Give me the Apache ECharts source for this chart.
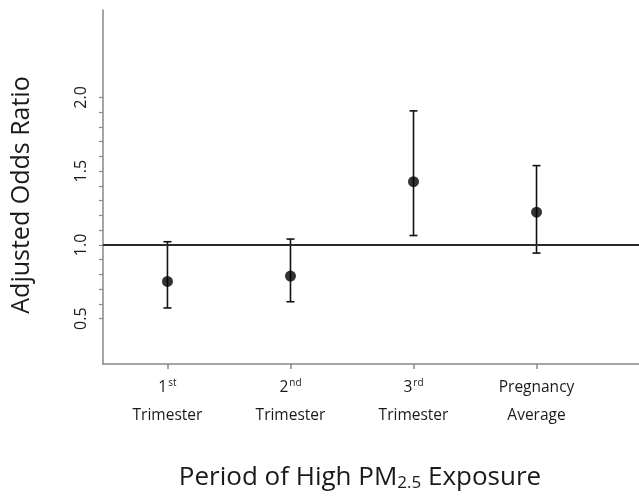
<!DOCTYPE html>
<html>
<head>
<meta charset="utf-8">
<script src="https://cdn.jsdelivr.net/npm/echarts@6/dist/echarts.min.js"></script>
<style>html,body{margin:0;padding:0;background:#fff}#c{width:639px;height:497px}</style>
</head>
<body>
<div id="c"></div>
<script>
// Data
var periods = ['1st Trimester', '2nd Trimester', '3rd Trimester', 'Pregnancy Average'];
var periodNum = ['1', '2', '3', ''];
var periodSup = ['st', 'nd', 'rd', ''];
var periodLine2 = ['Trimester', 'Trimester', 'Trimester', 'Average'];
var periodLine1Plain = ['', '', '', 'Pregnancy'];
var oddsRatio = [0.753, 0.789, 1.429, 1.222];
var ciLow = [0.573, 0.615, 1.064, 0.945];
var ciHigh = [1.022, 1.040, 1.909, 1.538];
var xPos = [1, 2, 3, 4];
var yTickValues = [0.5, 0.6, 0.7, 0.8, 0.9, 1.0, 1.1, 1.2, 1.3, 1.4, 1.5, 1.6, 1.7, 1.8, 1.9, 2.0];
var yLabelValues = [0.5, 1.0, 1.5, 2.0];
var referenceValue = 1.0;

var font = '"Open Sans", Lato, sans-serif';
var textColor = '#1a1a1a';

var chart = echarts.init(document.getElementById('c'), null, {renderer: 'canvas'});

var pointData = xPos.map(function (x, i) { return [x, oddsRatio[i]]; });
var barData = xPos.map(function (x, i) { return [x, ciLow[i], ciHigh[i]]; });

chart.setOption({
  animation: false,
  backgroundColor: '#fff',
  grid: {left: 103, right: 0, top: 10, bottom: 127, containLabel: false},
  xAxis: {
    type: 'value',
    min: 0.476,
    max: 4.833,
    splitLine: {show: false},
    axisLine: {show: true, lineStyle: {color: '#888', width: 1.5}},
    axisTick: {show: true, customValues: xPos, length: 5, lineStyle: {color: '#888', width: 1.5}},
    axisLabel: {
      customValues: xPos,
      margin: 10,
      formatter: function (v) {
        var i = Math.round(v) - 1;
        if (i < 0 || i > 3) return '';
        var l1 = periodNum[i] ? '{a|' + periodNum[i] + '}{s|' + periodSup[i] + '}' : '{a|' + periodLine1Plain[i] + '}';
        return l1 + '\n{a|' + periodLine2[i] + '}';
      },
      rich: {
        a: {fontFamily: font, fontSize: 15.5, color: textColor, lineHeight: 28},
        s: {fontFamily: font, fontSize: 10, color: textColor, lineHeight: 28, padding: [0, 0, 9, 1]}
      }
    },
    name: '{n|Period of High PM}{b|2.5}{n| Exposure}',
    nameLocation: 'middle',
    nameGap: 100,
    nameTextStyle: {
      padding: [0, 22, 0, 0],
      rich: {
        n: {fontFamily: font, fontSize: 26, color: textColor},
        b: {fontFamily: font, fontSize: 17, color: textColor, padding: [11, 0, 0, 0]}
      }
    }
  },
  yAxis: {
    type: 'value',
    min: 0.193,
    max: 2.593,
    splitLine: {show: false},
    axisLine: {show: true, lineStyle: {color: '#888', width: 1.5}},
    axisTick: {show: true, customValues: yTickValues, length: 4, lineStyle: {color: '#888', width: 1.2}},
    axisLabel: {
      customValues: yLabelValues,
      rotate: 90,
      margin: 14,
      fontFamily: font,
      fontSize: 16,
      color: textColor,
      formatter: function (v) { return v.toFixed(1); }
    },
    name: 'Adjusted Odds Ratio',
    nameLocation: 'middle',
    nameGap: 69,
    nameTextStyle: {fontFamily: font, fontSize: 25, color: textColor, padding: [0, 16, 0, 0]}
  },
  series: [
    {
      type: 'custom',
      data: barData,
      z: 3,
      renderItem: function (params, api) {
        var x = api.value(0);
        var lo = api.coord([x, api.value(1)]);
        var hi = api.coord([x, api.value(2)]);
        var cap = 4;
        var st = {stroke: '#111', lineWidth: 1.6};
        return {
          type: 'group',
          children: [
            {type: 'line', shape: {x1: lo[0], y1: lo[1], x2: hi[0], y2: hi[1]}, style: st},
            {type: 'line', shape: {x1: lo[0] - cap, y1: lo[1], x2: lo[0] + cap, y2: lo[1]}, style: st},
            {type: 'line', shape: {x1: hi[0] - cap, y1: hi[1], x2: hi[0] + cap, y2: hi[1]}, style: st}
          ]
        };
      }
    },
    {
      type: 'scatter',
      data: pointData,
      symbol: 'circle',
      symbolSize: 11,
      z: 4,
      itemStyle: {color: '#000'},
      markLine: {
        silent: true,
        symbol: ['none', 'none'],
        label: {show: false},
        lineStyle: {color: '#2a2a2a', width: 2.2, type: 'solid'},
        data: [{yAxis: referenceValue}]
      }
    }
  ]
});
</script>
</body>
</html>
